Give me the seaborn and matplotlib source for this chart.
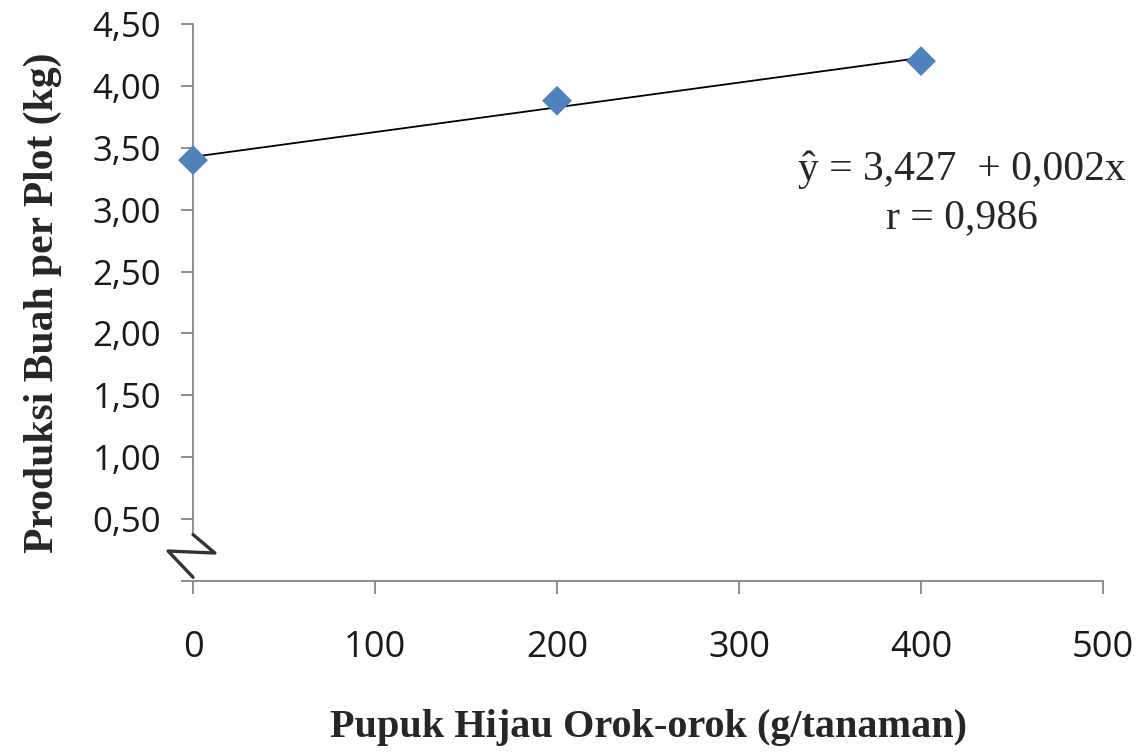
import numpy as np
import pandas as pd
import matplotlib
matplotlib.use('Agg')
import matplotlib.pyplot as plt
import seaborn as sns

# data
dosis = [0, 200, 400]
produksi = [3.40, 3.88, 4.20]
x_ticks = [0, 100, 200, 300, 400, 500]
y_ticks = [0, 0.5, 1.0, 1.5, 2.0, 2.5, 3.0, 3.5, 4.0, 4.5]
y_labels = ['', '0,50', '1,00', '1,50', '2,00', '2,50', '3,00', '3,50', '4,00', '4,50']
eq_text = 'ŷ = 3,427  + 0,002x\nr = 0,986'

df = pd.DataFrame({'dosis': dosis, 'produksi': produksi})

sns.set_style('white')
plt.rcParams['font.family'] = ['Open Sans', 'DejaVu Sans']

fig = plt.figure(figsize=(11.43, 7.52), dpi=100)
ax = fig.add_axes([0.1689, 0.2274, 0.7961, 0.7407])

sns.regplot(data=df, x='dosis', y='produksi', ci=None, ax=ax,
            marker='D',
            scatter_kws={'s': 230, 'color': '#4F81BD', 'alpha': 1,
                         'edgecolors': 'none', 'zorder': 3, 'clip_on': False},
            line_kws={'color': 'black', 'lw': 1.3, 'zorder': 2})

ax.set_xlim(0, 500)
ax.set_ylim(0, 4.5)
ax.set_xticks(x_ticks)
ax.set_yticks(y_ticks)
ax.set_yticklabels(y_labels)
ax.set_xticklabels([str(v) for v in x_ticks])

grey = '#868686'
for s in ['top', 'right']:
    ax.spines[s].set_visible(False)
for s in ['left', 'bottom']:
    ax.spines[s].set_color(grey)
    ax.spines[s].set_linewidth(1.3)
ax.spines['left'].set_bounds(0.39, 4.5)

ax.tick_params(axis='both', bottom=True, left=True, colors=grey,
               labelcolor='#1a1a1a', length=9, width=1.3, direction='out')
ax.tick_params(axis='x', labelsize=26, pad=26)
ax.tick_params(axis='y', labelsize=25, pad=14)

# axis break mark on the y axis
ax.plot([0, 12, -13.7, 0], [0.375, 0.226, 0.242, 0.03], color='#333333',
        lw=2.4, clip_on=False, zorder=4, solid_capstyle='round')

serif = ['Liberation Serif', 'DejaVu Serif']
ax.set_xlabel('Pupuk Hijau Orok-orok (g/tanaman)', family=serif,
              fontweight='bold', fontsize=29, labelpad=31)
ax.set_ylabel('Produksi Buah per Plot (kg)', family=serif,
              fontweight='bold', fontsize=30, labelpad=22)

ax.text(0.845, 0.695, eq_text, transform=ax.transAxes, family=serif,
        fontsize=30, ha='center', va='center', linespacing=1.35)

fig.savefig('out.png', dpi=100)
